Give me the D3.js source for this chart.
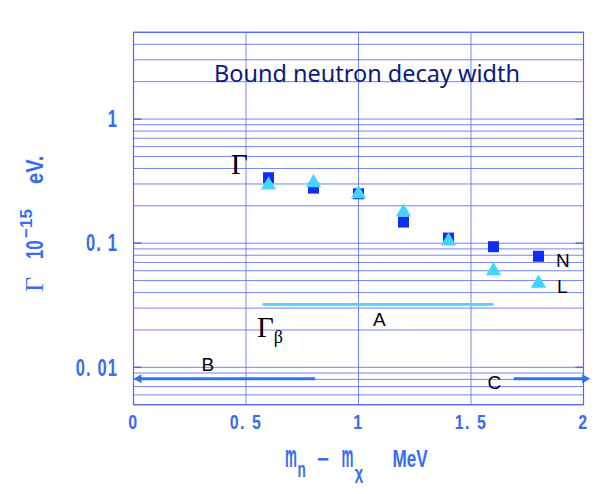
<!DOCTYPE html>
<html><head><meta charset="utf-8">
<script src="https://cdn.jsdelivr.net/npm/d3@7"></script>
<style>body{margin:0;background:#fff}svg{display:block}</style>
</head><body>
<script>
// ---- data ----
const deltaM = [0.6, 0.8, 1.0, 1.2, 1.4, 1.6, 1.8];
const seriesN = [0.337, 0.278, 0.25, 0.148, 0.110, 0.0937, 0.0785];
const seriesL = [0.305, 0.319, 0.26, 0.185, 0.108, 0.0623, 0.0494];
const lineA = {x: [0.574, 1.6], y: 0.0322};
const arrowB = {x: [0.807, 0.0], y: 0.0081};
const arrowC = {x: [1.69, 2.03], y: 0.0081};
const xTicks = [0, 0.5, 1, 1.5, 2];
const xTickLabels = ["0", "0. 5", "1", "1. 5", "2"];
const yTicks = [1, 0.1, 0.01];
const yTickLabels = ["1", "0. 1", "0. 01"];

const W = 610, H = 494;
const svg = d3.select("body").append("svg").attr("width", W).attr("height", H);
const x = d3.scaleLinear().domain([0, 2]).range([133.5, 583.5]);
const y = d3.scaleLog().domain([0.005, 5]).range([404.7, 32.3]);

const gridC = "#5468f0", blueTxt = "#3a6cf2";

// horizontal log grid
const minor = [];
for (const dec of [0.001, 0.01, 0.1, 1]) for (let k = 1; k <= 9; k++) {
  const v = +(dec * k).toPrecision(3);
  if (v >= 0.005 && v <= 5) minor.push(v);
}
svg.append("g").selectAll("line").data(minor).join("line")
  .attr("x1", x(0)).attr("x2", x(2)).attr("y1", d => y(d)).attr("y2", d => y(d))
  .attr("stroke", gridC).attr("stroke-width", 1).attr("opacity", 0.8);
svg.append("g").selectAll("line").data([0.5, 1, 1.5]).join("line")
  .attr("x1", d => x(d)).attr("x2", d => x(d)).attr("y1", y(5)).attr("y2", y(0.005))
  .attr("stroke", gridC).attr("stroke-width", 1).attr("opacity", 0.8);
svg.append("rect").attr("x", x(0)).attr("y", y(5)).attr("width", x(2) - x(0)).attr("height", y(0.005) - y(5))
  .attr("fill", "none").attr("stroke", gridC).attr("stroke-width", 1.2);
// inward major ticks
svg.append("g").selectAll("line").data(yTicks).join("line")
  .attr("x1", x(0)).attr("x2", x(0) + 8).attr("y1", d => y(d)).attr("y2", d => y(d))
  .attr("stroke", gridC).attr("stroke-width", 1.5);
svg.append("g").selectAll("line").data(yTicks).join("line")
  .attr("x1", x(2)).attr("x2", x(2) - 8).attr("y1", d => y(d)).attr("y2", d => y(d))
  .attr("stroke", gridC).attr("stroke-width", 1.5);

// helper for condensed blue text
function ctext(g, str, tx, ty, fs, sx, sy, anchor, wt, ls) {
  return g.append("text").attr("transform", `translate(${tx},${ty}) scale(${sx},${sy})`)
    .attr("text-anchor", anchor || "start").attr("font-family", "Liberation Sans")
    .attr("font-weight", wt || "bold").attr("letter-spacing", ls || 0)
    .attr("font-size", fs).attr("fill", blueTxt).text(str);
}
// tick labels
yTicks.forEach((t, i) => ctext(svg, yTickLabels[i], 118, y(t) + 8.3, 23, 0.72, 1, "end", "bold", 1.5));
xTicks.forEach((t, i) => ctext(svg, xTickLabels[i], x(t), 428.5, 19.5, 0.82, 1, "middle", "bold", 1.8));

// x-axis title
ctext(svg, "m", 285, 467, 23.5, 0.57, 1.3);
ctext(svg, "n", 297.5, 477, 17, 0.8, 1.3);
ctext(svg, "−", 317, 467, 23, 0.9, 1);
ctext(svg, "m", 341.5, 467, 23.5, 0.57, 1.3);
ctext(svg, "χ", 354.5, 479, 17, 0.9, 1.1);
ctext(svg, "MeV", 392.5, 467, 23.5, 0.73, 1);

// y-axis title
const yt = svg.append("g").attr("transform", "translate(43,292) rotate(-90)");
yt.append("text").attr("x", 0).attr("y", 0).attr("font-family", "Liberation Serif")
  .attr("font-size", 26).attr("fill", blueTxt).text("Γ");
ctext(yt, "10", 33, 0, 24, 0.7, 1, "start", "bold");
ctext(yt, "−15", 54, -11, 17, 1.0, 1, "start", "bold");
ctext(yt, "eV.", 108, 0, 24, 0.84, 1, "start", "bold");

// title
svg.append("text").attr("x", 214).attr("y", 81.7).attr("font-family", "Noto Sans")
  .attr("font-size", 23).attr("fill", "#0a1a7e").attr("textLength", 306)
  .attr("lengthAdjust", "spacingAndGlyphs").text("Bound neutron decay width");

// line A
svg.append("line").attr("x1", x(lineA.x[0])).attr("x2", x(lineA.x[1]))
  .attr("y1", y(lineA.y)).attr("y2", y(lineA.y)).attr("stroke", "#4fd2f8").attr("stroke-width", 2.7);

// arrows
const arrC = "#2f72f0";
function arrow(a) {
  const x0 = x(a.x[0]), x1 = x(a.x[1]), yy = y(a.y), dir = Math.sign(x1 - x0);
  svg.append("line").attr("x1", x0).attr("x2", x1 - dir * 6).attr("y1", yy).attr("y2", yy)
    .attr("stroke", arrC).attr("stroke-width", 3);
  svg.append("path").attr("d", `M${x1},${yy} L${x1 - dir * 8},${yy - 4.5} L${x1 - dir * 8},${yy + 4.5} Z`)
    .attr("fill", arrC);
}
arrow(arrowB); arrow(arrowC);

// markers
svg.append("g").selectAll("rect").data(deltaM).join("rect")
  .attr("x", (d, i) => x(d) - 5.5).attr("y", (d, i) => y(seriesN[i]) - 5.5)
  .attr("width", 11).attr("height", 11).attr("fill", "#0d2ff5");
svg.append("g").selectAll("path").data(deltaM).join("path")
  .attr("transform", (d, i) => `translate(${x(d)},${y(seriesL[i])})`)
  .attr("d", "M0,-6.8 L7.6,6.5 L-7.6,6.5 Z").attr("fill", "#45d3ff");

// black annotation labels
function blk(str, tx, ty, fs, fam) {
  return svg.append("text").attr("x", tx).attr("y", ty).attr("font-family", fam || "Liberation Sans")
    .attr("font-size", fs).attr("fill", "#000").text(str);
}
blk("N", 556, 266.5, 19);
blk("L", 557, 292.5, 19);
blk("A", 373, 326, 19);
blk("B", 201.5, 371, 19);
blk("C", 487.5, 389, 19);
blk("Γ", 231, 174, 29, "Liberation Serif");
const gb = svg.append("text").attr("x", 257).attr("y", 337).attr("font-family", "Liberation Serif")
  .attr("font-size", 29).attr("fill", "#000");
gb.append("tspan").text("Γ");
gb.append("tspan").attr("dy", 6).attr("font-size", 18).text("β");
</script>
</body></html>
